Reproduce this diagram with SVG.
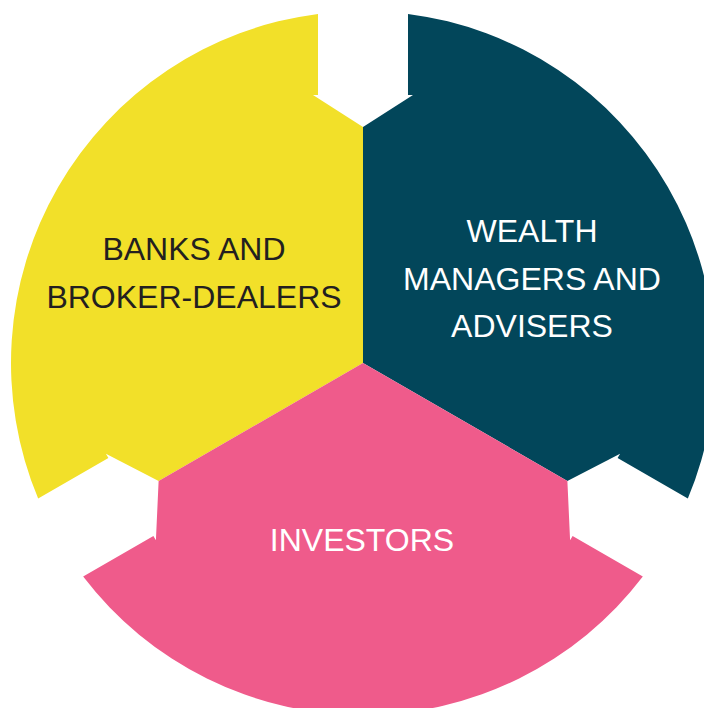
<svg xmlns="http://www.w3.org/2000/svg" xmlns:xlink="http://www.w3.org/1999/xlink" width="704" height="708" viewBox="0 0 704 708">
  <style>
    .lbl { font-family: "Liberation Sans", Arial, sans-serif; font-size: 32px; text-anchor: middle; }
    .dark { fill: #231F20; }
    .light { fill: #FFFFFF; }
  </style>
  <defs>
    <path id="seg" d="M0,0 L0,-236 L-50,-268 L-45,-268 L-45,-349.11 A352,352 0 0 0 -324.84,135.58 L-254.59,95.03 L-257.09,90.70 L-204.38,118 Z"/>
  </defs>
  <rect width="704" height="708" fill="#FFFFFF"/>
  <g id="banks">
    <use xlink:href="#seg" transform="translate(363,363)" fill="#F2E029"/>
    <text class="lbl dark" x="194" y="260">BANKS AND</text>
    <text class="lbl dark" x="194" y="308">BROKER-DEALERS</text>
  </g>
  <g id="wealth">
    <use xlink:href="#seg" transform="translate(363,363) rotate(120)" fill="#02465A"/>
    <text class="lbl light" x="532" y="242">WEALTH</text>
    <text class="lbl light" x="532" y="290">MANAGERS AND</text>
    <text class="lbl light" x="532" y="337">ADVISERS</text>
  </g>
  <g id="investors">
    <use xlink:href="#seg" transform="translate(363,363) rotate(240)" fill="#EF5B8B"/>
    <text class="lbl light" x="362" y="551">INVESTORS</text>
  </g>
  <g id="connectors"/>
</svg>
